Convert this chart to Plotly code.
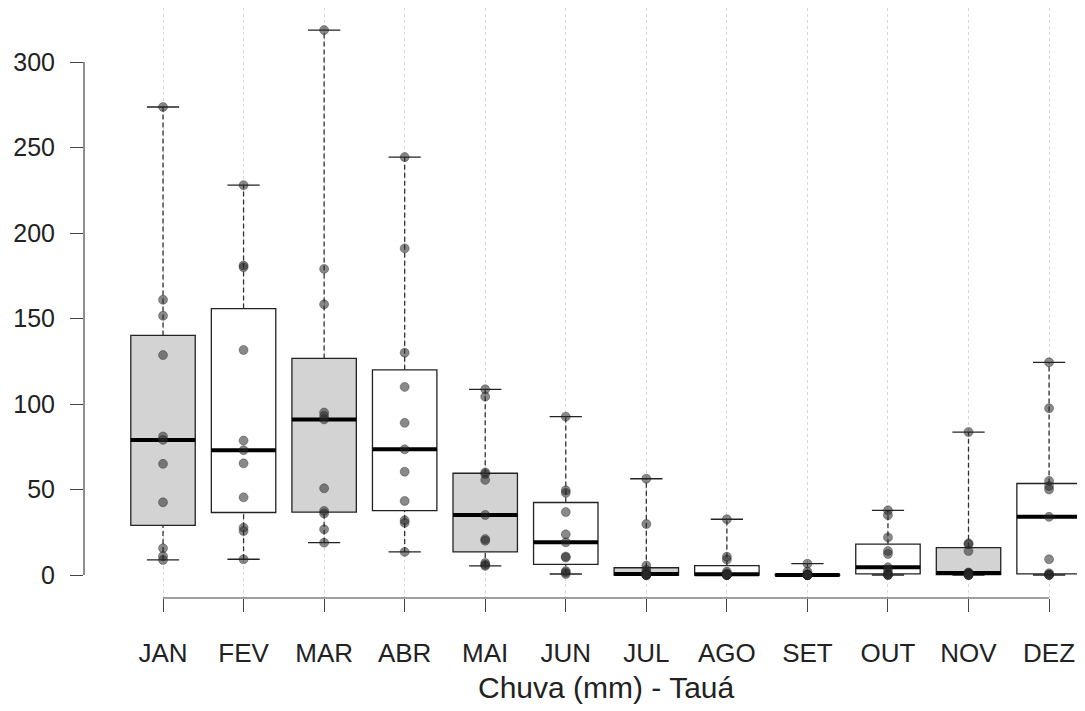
import math
import plotly.graph_objects as go

# ---- data (mm) ----
months = ["JAN", "FEV", "MAR", "ABR", "MAI", "JUN", "JUL", "AGO", "SET", "OUT", "NOV", "DEZ"]
jan = [273.7, 161, 151.6, 128.6, 81, 79, 65, 42.5, 15.6, 11, 8.8]
fev = [228, 181, 180, 131.6, 78.6, 73, 65.3, 45.4, 27.7, 25.7, 9.2]
mar = [318.7, 179, 158.3, 95, 93, 91, 50.7, 37.5, 36, 26.7, 18.9]
abr = [244.4, 191, 130, 110, 89, 73.5, 60.4, 43.3, 32, 30.5, 13.5]
mai = [108.6, 104.3, 60, 59, 55.6, 35.1, 21, 20, 7, 6, 5.3]
jun = [92.6, 49.5, 48, 36.8, 23.8, 19.1, 10.8, 10.2, 2.3, 1.5, 0.6]
jul = [56.3, 29.8, 5.5, 3, 1.5, 0.6, 0.3, 0, 0, 0, 0]
ago = [32.6, 10.7, 9, 2, 1, 0.5, 0, 0, 0, 0, 0]
set_ = [6.6, 2, 0.5, 0, 0, 0, 0, 0, 0, 0, 0]
out = [37.8, 35, 22, 14, 12.3, 4.5, 3, 1, 0.3, 0, 0]
nov = [83.6, 18.5, 18, 14, 1.5, 1.2, 1, 0.5, 0, 0, 0]
dez = [124.4, 97.5, 55, 52, 50, 34, 9.2, 1, 0.3, 0, 0]
series = [jan, fev, mar, abr, mai, jun, jul, ago, set_, out, nov, dez]
fills = ["#d3d3d3", "#ffffff"]
yticks = [0, 50, 100, 150, 200, 250, 300]
xlabel = "Chuva (mm) - Tauá"

positions = list(range(1, len(months) + 1))


def fivenum(v):
    s = sorted(v)
    n = len(s)
    n4 = math.floor((n + 3) / 2) / 2
    d = [1, n4, (n + 1) / 2, n + 1 - n4, n]
    return [0.5 * (s[math.floor(k - 1)] + s[math.ceil(k - 1)]) for k in d]


stats = [fivenum(v) for v in series]
BOXW = 0.8
CAPW = 0.4

fig = go.Figure()

# boxes (two fills alternating)
for k, fc in enumerate(fills):
    idx = [i for i in range(len(months)) if i % 2 == k]
    fig.add_trace(go.Box(
        x=[positions[i] for i in idx],
        q1=[stats[i][1] for i in idx],
        median=[stats[i][2] for i in idx],
        q3=[stats[i][3] for i in idx],
        lowerfence=[stats[i][1] for i in idx],
        upperfence=[stats[i][3] for i in idx],
        width=BOXW, fillcolor=fc, whiskerwidth=0,
        line=dict(color="#222222", width=1.3),
        boxpoints=False, showlegend=False, hoverinfo="skip",
    ))

# whiskers (dashed)
wx, wy = [], []
for p, s in zip(positions, stats):
    wx += [p, p, None, p, p, None]
    wy += [s[0], s[1], None, s[3], s[4], None]
fig.add_trace(go.Scatter(x=wx, y=wy, mode="lines",
                         line=dict(color="#333333", width=1.3, dash="5px,3px"),
                         showlegend=False, hoverinfo="skip"))

# caps
cx, cy = [], []
for p, s in zip(positions, stats):
    for v in (s[0], s[4]):
        cx += [p - CAPW / 2, p + CAPW / 2, None]
        cy += [v, v, None]
fig.add_trace(go.Scatter(x=cx, y=cy, mode="lines",
                         line=dict(color="#222222", width=1.3),
                         showlegend=False, hoverinfo="skip"))

# medians (thick)
mx, my = [], []
for p, s in zip(positions, stats):
    mx += [p - BOXW / 2, p + BOXW / 2, None]
    my += [s[2], s[2], None]
fig.add_trace(go.Scatter(x=mx, y=my, mode="lines",
                         line=dict(color="#000000", width=4),
                         showlegend=False, hoverinfo="skip"))

# observations
px, py = [], []
for p, v in zip(positions, series):
    px += [p] * len(v)
    py += v
fig.add_trace(go.Scatter(x=px, y=py, mode="markers",
                         marker=dict(color="rgba(40,40,40,0.55)", size=9,
                                     line=dict(width=1, color="rgba(30,30,30,0.35)")),
                         showlegend=False, hoverinfo="skip"))

# axis lines drawn like R (only spanning the ticks)
fig.add_shape(type="line", xref="paper", yref="y", x0=0, x1=0,
              y0=yticks[0], y1=yticks[-1], line=dict(color="#444444", width=1.2))
fig.add_shape(type="line", xref="x", yref="paper", x0=positions[0], x1=positions[-1],
              y0=0, y1=0, line=dict(color="#444444", width=1.2))

fig.add_annotation(text=xlabel, xref="x", yref="paper",
                   x=(positions[0] + positions[-1]) / 2, y=-0.1525,
                   showarrow=False, yanchor="middle",
                   font=dict(size=30, color="#222222"))

FONT = "Liberation Sans, Arial, sans-serif"
fig.update_layout(
    width=1077, height=703,
    margin=dict(l=76, r=0, t=0, b=113),
    paper_bgcolor="white", plot_bgcolor="white",
    font=dict(family=FONT, size=25, color="#222222"),
    showlegend=False,
    xaxis=dict(range=[0.019, 12.446], tickmode="array", tickvals=positions,
               ticktext=months, showgrid=True, gridcolor="#d8d8d8",
               griddash="dot", gridwidth=1, zeroline=False, showline=False,
               ticks="outside", ticklen=13, tickcolor="#444444", tickwidth=1.2,
               ticklabelstandoff=19, tickfont=dict(size=26)),
    yaxis=dict(range=[-13.45, 331.6], tickmode="array", tickvals=yticks,
               showgrid=False, zeroline=False, showline=False,
               ticks="outside", ticklen=13, tickcolor="#444444", tickwidth=1.2,
               ticklabelstandoff=10, tickfont=dict(size=25)),
)

fig.write_html("out.html")
